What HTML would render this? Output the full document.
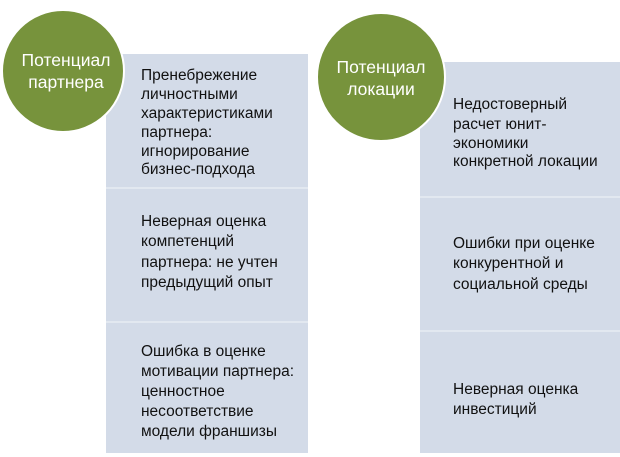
<!DOCTYPE html>
<html><head><meta charset="utf-8"><style>
html,body{margin:0;padding:0;background:#fff;}
svg{display:block;}
text{font-family:"Liberation Sans",sans-serif;font-size:15.5px;fill:#111;}
.c{fill:#fff;font-size:17.5px;text-anchor:middle;}
</style></head><body>
<svg width="620" height="457" viewBox="0 0 620 457">
<rect x="106" y="54" width="202" height="399" fill="#d3dbe8"/>
<line x1="106" y1="188" x2="308" y2="188" stroke="#e2e8f0" stroke-width="2"/>
<line x1="106" y1="322" x2="308" y2="322" stroke="#e2e8f0" stroke-width="2"/>
<rect x="420" y="62" width="200" height="391" fill="#d3dbe8"/>
<line x1="420" y1="197" x2="620" y2="197" stroke="#e2e8f0" stroke-width="2"/>
<line x1="420" y1="331" x2="620" y2="331" stroke="#e2e8f0" stroke-width="2"/>
<circle cx="63" cy="71" r="61" fill="#77933c" stroke="#fff" stroke-width="2"/>
<circle cx="381" cy="77" r="64" fill="#77933c" stroke="#fff" stroke-width="2"/>
<text class="c" x="66" y="66">Потенциал</text>
<text class="c" x="66" y="88">партнера</text>
<text class="c" x="381" y="73">Потенциал</text>
<text class="c" x="381" y="95">локации</text>
<text x="141" y="80">Пренебрежение</text>
<text x="141" y="99">личностными</text>
<text x="141" y="118">характеристиками</text>
<text x="141" y="137">партнера:</text>
<text x="141" y="156">игнорирование</text>
<text x="141" y="174">бизнес-подхода</text>
<text x="141" y="226">Неверная оценка</text>
<text x="141" y="246">компетенций</text>
<text x="141" y="267">партнера: не учтен</text>
<text x="141" y="287">предыдущий опыт</text>
<text x="141" y="356">Ошибка в оценке</text>
<text x="141" y="376">мотивации партнера:</text>
<text x="141" y="396">ценностное</text>
<text x="141" y="416">несоответствие</text>
<text x="141" y="436">модели франшизы</text>
<text x="453" y="109">Недостоверный</text>
<text x="453" y="129">расчет юнит-</text>
<text x="453" y="148">экономики</text>
<text x="453" y="166">конкретной локации</text>
<text x="453" y="248">Ошибки при оценке</text>
<text x="453" y="268">конкурентной и</text>
<text x="453" y="289">социальной среды</text>
<text x="453" y="394">Неверная оценка</text>
<text x="453" y="414">инвестиций</text>
</svg>
</body></html>
